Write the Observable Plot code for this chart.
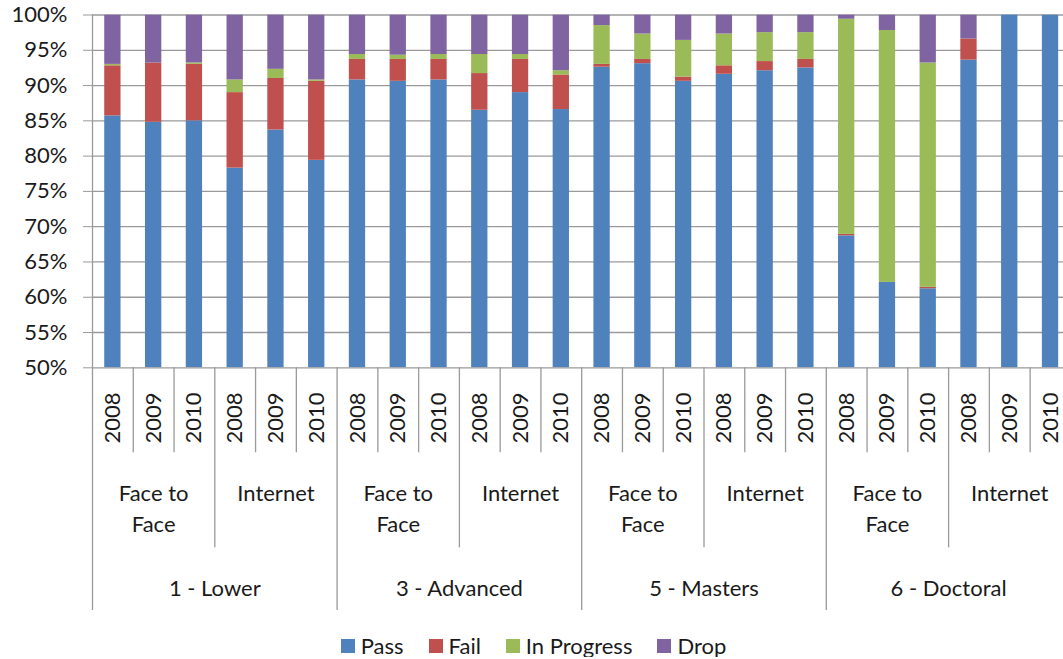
<!DOCTYPE html>
<html><head><meta charset="utf-8">
<script src="https://cdn.jsdelivr.net/npm/d3@7"></script>
<script src="https://cdn.jsdelivr.net/npm/@observablehq/plot@0.6"></script>
<style>
body{margin:0;background:#fff;overflow:hidden;font-family:Lato,sans-serif;}
#legend{display:flex;justify-content:center;gap:25px;padding-left:4px;margin-top:10px;font-size:22px;line-height:22px;color:#1a1a1a;}
.item{display:flex;align-items:center;}
.sw{width:14px;height:14px;margin-right:6px;}
</style></head><body>
<div id="chart"></div><div id="legend"></div>
<script>
const levels = ["1 - Lower", "3 - Advanced", "5 - Masters", "6 - Doctoral"];
const modes = ["Face to Face", "Internet"];
const years = ["2008", "2009", "2010"];
const seriesNames = ["Pass", "Fail", "In Progress", "Drop"];
const seriesColors = ["#4F81BD", "#C0504D", "#9BBB59", "#8064A2"];
const yTicks = [50, 55, 60, 65, 70, 75, 80, 85, 90, 95, 100];

// one value per bar, in order level > mode > year
const pass       = [85.7, 84.8, 85.0, 78.3, 83.7, 79.4, 90.8, 90.6, 90.8, 86.5, 89.0, 86.6, 92.6, 93.1, 90.6, 91.6, 92.1, 92.5, 68.7, 62.1, 61.2, 93.6, 100, 100];
const fail       = [7.1, 8.4, 8.0, 10.7, 7.3, 11.2, 2.9, 3.1, 2.9, 5.2, 4.7, 4.9, 0.4, 0.6, 0.6, 1.2, 1.3, 1.2, 0.2, 0, 0.2, 3.0, 0, 0];
const inProgress = [0.2, 0, 0.2, 1.8, 1.3, 0.2, 0.7, 0.6, 0.7, 2.7, 0.7, 0.6, 5.5, 3.6, 5.2, 4.5, 4.1, 3.8, 30.5, 35.7, 31.8, 0, 0, 0];
const drop       = [7.0, 6.8, 6.8, 9.2, 7.7, 9.2, 5.6, 5.7, 5.6, 5.6, 5.6, 7.9, 1.5, 2.7, 3.6, 2.7, 2.5, 2.5, 0.6, 2.2, 6.8, 3.4, 0, 0];

const cats = [];
levels.forEach(l => modes.forEach(m => years.forEach(y => cats.push({key: `${l}|${m}|${y}`, level: l, mode: m, year: y}))));
const seriesValues = [pass, fail, inProgress, drop];
const rows = [];
seriesNames.forEach((s, si) => cats.forEach((c, i) => rows.push({key: c.key, series: s, value: seriesValues[si][i]})));

// layout
const W = 1063, H = 625, mL = 92, mT = 14.5, plotBottom = 367.3, xEnd = 1070.4;
const step = (xEnd - mL) / cats.length;
const gray = "#9a9a9a", ink = "#1a1a1a";
const font = "Lato, sans-serif";

const chart = Plot.plot({
  width: W, height: H,
  marginLeft: mL, marginRight: 0, marginTop: mT, marginBottom: H - plotBottom,
  style: {fontFamily: font, color: ink, background: "#fff"},
  x: {domain: cats.map(d => d.key), range: [mL, xEnd], paddingInner: 0.6, paddingOuter: 0.3, round: false, axis: null},
  y: {domain: [50, 100]},
  color: {domain: seriesNames, range: seriesColors},
  marks: [
    Plot.ruleY(yTicks.filter(t => t > 50), {stroke: gray, strokeWidth: 1.3}),
    Plot.barY(rows, {x: "key", y: "value", fill: "series", clip: true}),
    Plot.ruleY([50], {stroke: gray, strokeWidth: 1.3}),
    Plot.axisY({ticks: yTicks, tickSize: 9, tickPadding: 16, tickFormat: d => d + "%", fontSize: 22, stroke: gray, fill: ink, label: null}),
    // left axis line down through the category labels
    Plot.ruleX([cats[0]], {x: "key", dx: -step / 2, y1: 100, y2: 50, insetBottom: -(610 - plotBottom), stroke: gray, strokeWidth: 1.3}),
    // year separators
    Plot.ruleX(cats.filter(c => c.year !== "2008"), {x: "key", dx: -step / 2, y1: 50, y2: 50, insetBottom: -(452.3 - plotBottom), stroke: gray, strokeWidth: 1.3}),
    // mode separators
    Plot.ruleX(cats.filter(c => c.year === "2008" && c.mode === "Internet"), {x: "key", dx: -step / 2, y1: 50, y2: 50, insetBottom: -(547.3 - plotBottom), stroke: gray, strokeWidth: 1.3}),
    // level separators
    Plot.ruleX(cats.filter(c => c.year === "2008" && c.mode === modes[0] && c.level !== levels[0]), {x: "key", dx: -step / 2, y1: 50, y2: 50, insetBottom: -(610 - plotBottom), stroke: gray, strokeWidth: 1.3}),
    // year labels
    Plot.text(cats, {x: "key", text: "year", frameAnchor: "bottom", rotate: -90, dy: 50.2, fontSize: 22, textAnchor: "middle", lineAnchor: "middle", fill: ink}),
    // mode labels
    Plot.text(cats.filter(c => c.year === "2009"), {x: "key", text: "mode", frameAnchor: "bottom", dy: 110.7, lineAnchor: "top", lineWidth: 4.5, lineHeight: 1.41, fontSize: 22, textAnchor: "middle", fill: ink}),
    // level labels
    Plot.text(cats.filter(c => c.year === "2010" && c.mode === modes[0]), {x: "key", text: "level", frameAnchor: "bottom", dx: step / 2, dy: 212.4, lineAnchor: "top", fontSize: 22, textAnchor: "middle", fill: ink})
  ]
});
document.getElementById("chart").appendChild(chart);

const legend = document.getElementById("legend");
seriesNames.forEach((s, i) => {
  const item = document.createElement("div");
  item.className = "item";
  const sw = document.createElement("span");
  sw.className = "sw";
  sw.style.background = seriesColors[i];
  item.appendChild(sw);
  item.appendChild(document.createTextNode(s));
  legend.appendChild(item);
});
</script>
</body></html>
